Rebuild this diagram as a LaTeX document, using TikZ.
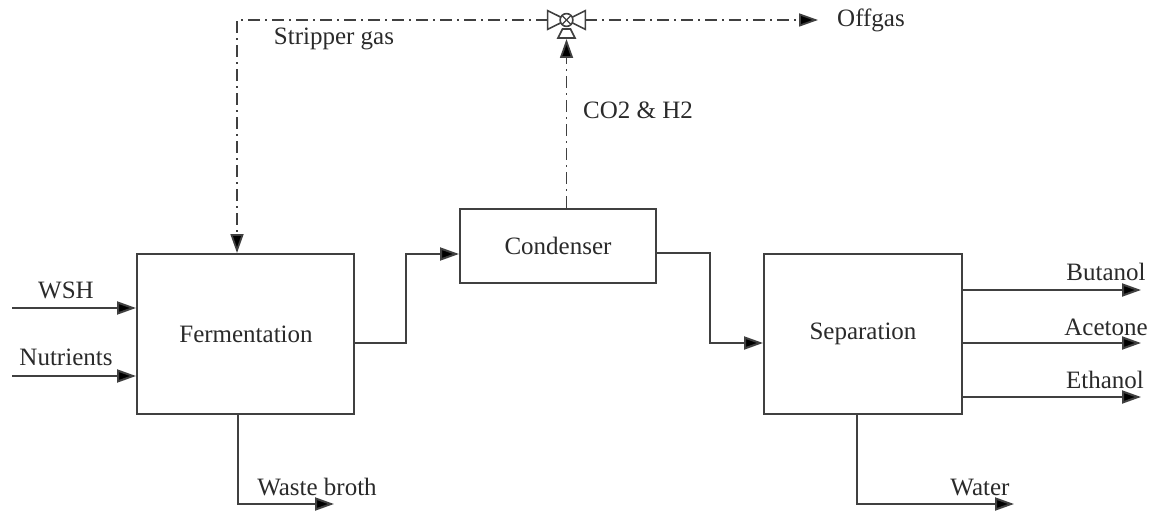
\documentclass[tikz,border=0pt]{standalone}
\usepackage{fontspec}
\setmainfont{Liberation Serif}
\usetikzlibrary{arrows.meta}
\definecolor{ln}{HTML}{404040}
\definecolor{tx}{HTML}{2A2A2A}
\tikzset{
  box/.style={draw=ln, line width=1pt, fill=white, inner sep=0pt},
  flow/.style={draw=ln, line width=1pt, -{Triangle[length=9.5pt,width=6.5pt,fill=black]}},
  plain/.style={draw=ln, line width=1pt},
  gas/.style={draw=ln, line width=0.9pt, dash pattern=on 6pt off 2.5pt on 1pt off 2.5pt},
  gasflow/.style={gas, -{Triangle[length=9.5pt,width=6.5pt,fill=black]}},
  lbl/.style={text=tx, inner sep=0pt, font=\fontsize{12.5}{14}\selectfont},
}
\begin{document}
\begin{tikzpicture}[x=0.5pt, y=-0.5pt]
\useasboundingbox (0,0) rectangle (1154,513);
% boxes
\node[box, minimum width=108.5pt, minimum height=80pt] (ferm) at (245.5,334) {};
\node[lbl] (fermt) at (246,334) {Fermentation};
\node[box, minimum width=98pt, minimum height=37pt] (cond) at (558,246) {};
\node[lbl] (condt) at (558,246) {Condenser};
\node[box, minimum width=99pt, minimum height=80pt] (sep) at (863,334) {};
\node[lbl] (sept) at (863,334) {Separation};
% inputs
\coordinate (wshin) at (12,308);
\coordinate (nutin) at (12,376);
\draw[flow] (wshin) -- (wshin -| ferm.west);
\draw[flow] (nutin) -- (nutin -| ferm.west);
\node[lbl] (wsh) at (66,290) {WSH};
\node[lbl] (nut) at (66,357) {Nutrients};
% fermentation -> condenser
\coordinate (fc) at (406,300);
\draw[flow] ([yshift=-4.5pt]ferm.east) -| (fc) |- ([yshift=-4pt]cond.west);
% condenser -> separation
\coordinate (cs) at (710,300);
\draw[flow] ([yshift=-3.5pt]cond.east) -| (cs) |- ([yshift=-4.5pt]sep.west);
% products
\coordinate (pend) at (1141,0);
\draw[flow] ([yshift=22pt]sep.east) -- ([yshift=22pt]sep.east -| pend);
\draw[flow] ([yshift=-4.5pt]sep.east) -- ([yshift=-4.5pt]sep.east -| pend);
\draw[flow] ([yshift=-31.5pt]sep.east) -- ([yshift=-31.5pt]sep.east -| pend);
\node[lbl] (but) at (1106,272) {Butanol};
\node[lbl] (ace) at (1106,327) {Acetone};
\node[lbl] (eth) at (1105,380) {Ethanol};
% bottoms
\coordinate (wb) at (334,504);
\draw[flow] ([xshift=-3.75pt]ferm.south) |- (wb);
\node[lbl] (wbt) at (317,487) {Waste broth};
\coordinate (wt) at (1014,504);
\draw[flow] ([xshift=-3pt]sep.south) |- (wt);
\node[lbl] (wtt) at (980,487) {Water};
% valve
\node[inner sep=0pt, minimum width=18.5pt, minimum height=9pt] (valve) at (566.5,20) {};
\draw[plain, line width=0.8pt, fill=white] (valve.north west) -- (valve.south west) -- (valve.center) -- cycle;
\draw[plain, line width=0.8pt, fill=white] (valve.north east) -- (valve.south east) -- (valve.center) -- cycle;
\draw[plain, line width=0.8pt, fill=white] (valve.center) circle (3.2pt);
\draw[plain, line width=0.6pt] ([shift={(-2.2pt,-2.2pt)}]valve.center) -- ([shift={(2.2pt,2.2pt)}]valve.center);
\draw[plain, line width=0.6pt] ([shift={(-2.2pt,2.2pt)}]valve.center) -- ([shift={(2.2pt,-2.2pt)}]valve.center);
\coordinate (act) at (566.5,39);
\draw[plain, line width=0.8pt, fill=white] (562.5,29) -- (570.5,29) -- (575,38) -- (558,38) -- cycle;
% gas lines
\coordinate (sg) at (237,20);
\draw[gasflow] (valve.west) -- (sg) -- (sg |- ferm.north);
\node[lbl] (sgt) at (334,39) {Stripper gas};
\draw[gasflow] ([xshift=4.25pt]cond.north) -- ([xshift=4.25pt]cond.north |- act);
\node[lbl] (co2) at (638,110) {CO2 \& H2};
\coordinate (og) at (818,20);
\draw[gasflow] (valve.east) -- (og);
\node[lbl] (ogt) at (871,20) {Offgas};
\end{tikzpicture}
\end{document}
